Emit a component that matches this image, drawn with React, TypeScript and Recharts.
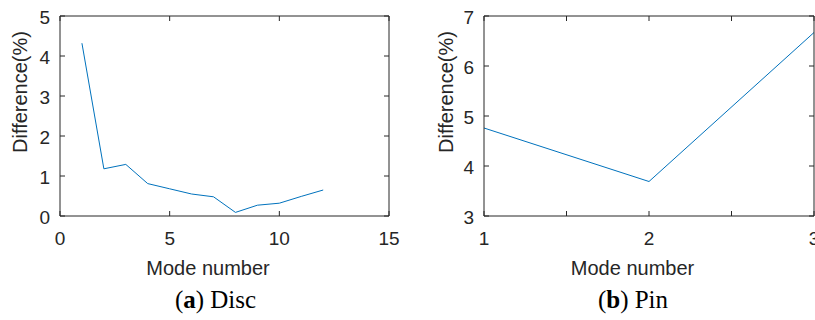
import React from 'react';
import { LineChart, Line, XAxis, YAxis } from 'recharts';

// ---- data ----
const discModes = [1, 2, 3, 4, 5, 6, 7, 8, 9, 10, 11, 12];
const discDiff = [4.32, 1.18, 1.29, 0.81, 0.68, 0.55, 0.48, 0.09, 0.27, 0.32, 0.49, 0.65];
const discXTicks = [0, 5, 10, 15];
const discYTicks = [0, 1, 2, 3, 4, 5];

const pinModes = [1, 2, 3];
const pinDiff = [4.76, 3.69, 6.67];
const pinXTicks = [1, 1.5, 2, 2.5, 3];
const pinYTicks = [3, 4, 5, 6, 7];

const xLabelText = 'Mode number';
const yLabelText = 'Difference(%)';

const discData = discModes.map((m, i) => ({ x: m, y: discDiff[i] }));
const pinData = pinModes.map((m, i) => ({ x: m, y: pinDiff[i] }));

// ---- styles ----
const AXIS = '#262626';
const LINE = '#0072BD';
const SANS = "'Liberation Sans', Arial, Helvetica, sans-serif";
const SERIF = "'Liberation Serif', 'Times New Roman', serif";
const TICK_FS = 19;
const LABEL_FS = 20;
const TL = 5;

const BottomTick = (props: any) => {
  const { x, y, payload } = props;
  const v = payload.value;
  const show = Number.isInteger(v);
  return (
    <g>
      <line x1={x} y1={y} x2={x} y2={y - TL} stroke={AXIS} strokeWidth={1} />
      {show && (
        <text x={x} y={y + 29} textAnchor="middle" fontSize={TICK_FS} fontFamily={SANS} fill={AXIS}>
          {v}
        </text>
      )}
    </g>
  );
};

const TopTick = (props: any) => {
  const { x, y } = props;
  return <line x1={x} y1={y} x2={x} y2={y + TL} stroke={AXIS} strokeWidth={1} />;
};

const LeftTick = (props: any) => {
  const { x, y, payload } = props;
  return (
    <g>
      <line x1={x} y1={y} x2={x + TL} y2={y} stroke={AXIS} strokeWidth={1} />
      <text x={x - 10} y={y + 8} textAnchor="end" fontSize={TICK_FS} fontFamily={SANS} fill={AXIS}>
        {payload.value}
      </text>
    </g>
  );
};

const RightTick = (props: any) => {
  const { x, y } = props;
  return <line x1={x} y1={y} x2={x - TL} y2={y} stroke={AXIS} strokeWidth={1} />;
};

type PanelProps = {
  data: { x: number; y: number }[];
  xTicks: number[];
  yTicks: number[];
  left: number;
  width: number;
  yAxisWidth: number;
  marginRight: number;
  yLabelX: number;
};

const Panel = ({ data, xTicks, yTicks, left, width, yAxisWidth, marginRight, yLabelX }: PanelProps) => {
  const xDomain: [number, number] = [xTicks[0], xTicks[xTicks.length - 1]];
  const yDomain: [number, number] = [yTicks[0], yTicks[yTicks.length - 1]];
  return (
    <div style={{ position: 'absolute', left, top: 0, width, height: 320 }}>
      <LineChart
        width={width}
        height={320}
        data={data}
        margin={{ top: 15, right: marginRight, bottom: 44, left: 0 }}
      >
        <XAxis
          dataKey="x"
          type="number"
          domain={xDomain}
          ticks={xTicks}
          interval={0}
          height={60}
          tickSize={0}
          tickMargin={0}
          tickLine={false}
          axisLine={{ stroke: AXIS, strokeWidth: 1 }}
          tick={BottomTick}
          label={{
            content: (p: any) => {
              const vb = p.viewBox || { x: 0, y: 216, width: 330, height: 60 };
              return (
                <text
                  x={vb.x + vb.width / 2 - 16.5}
                  y={vb.y + 59}
                  textAnchor="middle"
                  fontSize={LABEL_FS}
                  fontFamily={SANS}
                  fill={AXIS}
                >
                  {xLabelText}
                </text>
              );
            },
          }}
        />
        <XAxis
          xAxisId="top"
          dataKey="x"
          type="number"
          orientation="top"
          domain={xDomain}
          ticks={xTicks}
          interval={0}
          height={1}
          tickSize={0}
          tickMargin={0}
          tickLine={false}
          axisLine={{ stroke: AXIS, strokeWidth: 1 }}
          tick={TopTick}
        />
        <YAxis
          dataKey="y"
          type="number"
          domain={yDomain}
          ticks={yTicks}
          interval={0}
          width={yAxisWidth}
          tickSize={0}
          tickMargin={0}
          tickLine={false}
          axisLine={{ stroke: AXIS, strokeWidth: 1 }}
          tick={LeftTick}
          label={{
            content: (p: any) => {
              const vb = p.viewBox || { x: 0, y: 16, width: yAxisWidth, height: 200 };
              const cy = vb.y + vb.height / 2 - 24;
              return (
                <text
                  x={yLabelX}
                  y={cy}
                  transform={`rotate(-90, ${yLabelX}, ${cy})`}
                  textAnchor="middle"
                  fontSize={LABEL_FS}
                  fontFamily={SANS}
                  fill={AXIS}
                >
                  {yLabelText}
                </text>
              );
            },
          }}
        />
        <YAxis
          yAxisId="right"
          dataKey="y"
          type="number"
          orientation="right"
          domain={yDomain}
          ticks={yTicks}
          interval={0}
          width={1}
          tickSize={0}
          tickMargin={0}
          tickLine={false}
          axisLine={{ stroke: AXIS, strokeWidth: 1 }}
          tick={RightTick}
        />
        <Line
          type="linear"
          dataKey="y"
          stroke={LINE}
          strokeWidth={1}
          dot={false}
          activeDot={false}
          isAnimationActive={false}
        />
      </LineChart>
    </div>
  );
};

export default function App() {
  return (
    <div
      style={{
        position: 'absolute',
        left: 0,
        top: 0,
        width: 815,
        height: 320,
        overflow: 'hidden',
        background: '#ffffff',
      }}
    >
      <Panel
        data={discData}
        xTicks={discXTicks}
        yTicks={discYTicks}
        left={0}
        width={407}
        yAxisWidth={60}
        marginRight={17}
        yLabelX={27}
      />
      <Panel
        data={pinData}
        xTicks={pinXTicks}
        yTicks={pinYTicks}
        left={407}
        width={408}
        yAxisWidth={77}
        marginRight={0}
        yLabelX={46}
      />
      <svg
        width={815}
        height={320}
        style={{ position: 'absolute', left: 0, top: 0, pointerEvents: 'none' }}
      >
        <text x={215.5} y={308} textAnchor="middle" fontSize={25} fontFamily={SERIF} fill="#000">
          (<tspan fontWeight="bold">a</tspan>) Disc
        </text>
        <text x={633} y={308} textAnchor="middle" fontSize={25} fontFamily={SERIF} fill="#000">
          (<tspan fontWeight="bold">b</tspan>) Pin
        </text>
      </svg>
    </div>
  );
}
